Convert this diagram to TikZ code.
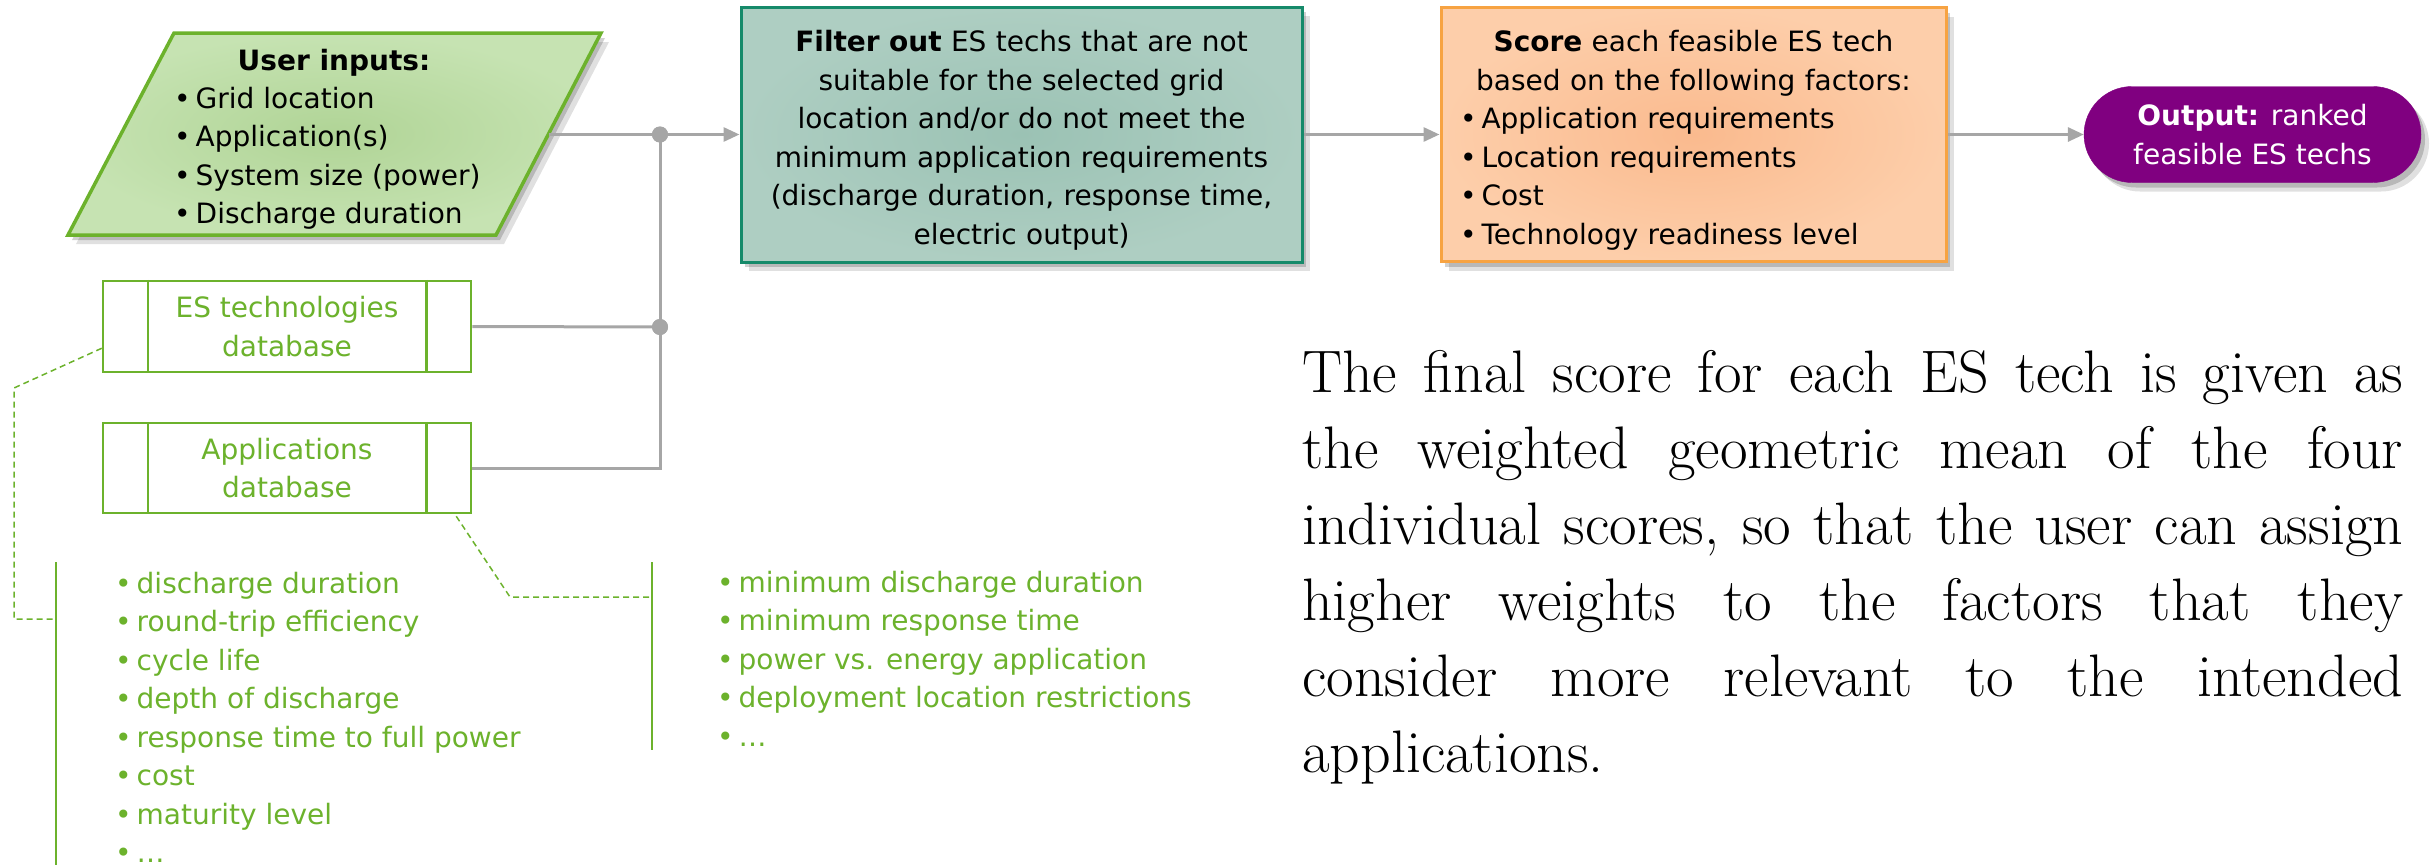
\documentclass[tikz,border=0pt]{standalone}
\usepackage{fontspec}
\newfontfamily\dvs{DejaVu Sans}
\usetikzlibrary{arrows.meta,shadows,shapes.misc,calc}
\definecolor{conn}{RGB}{166,166,166}
\definecolor{grn}{RGB}{108,178,44}
\definecolor{grnfillA}{RGB}{176,212,150}
\definecolor{grnfillB}{RGB}{198,227,178}
\definecolor{tealb}{RGB}{22,138,106}
\definecolor{tealA}{RGB}{155,194,180}
\definecolor{tealB}{RGB}{174,206,194}
\definecolor{orgb}{RGB}{247,163,66}
\definecolor{orgA}{RGB}{250,186,142}
\definecolor{orgB}{RGB}{253,206,170}
\definecolor{purp}{RGB}{128,0,128}
\tikzset{
  sans/.style={font=\dvs\fontsize{28}{38.5}\selectfont},
  softshadow/.style={drop shadow={shadow xshift=8pt,shadow yshift=-9pt,opacity=.12,fill=black},
                     drop shadow={shadow xshift=4pt,shadow yshift=-5pt,opacity=.18,fill=black}},
  connector/.style={draw=conn,line width=3pt},
  arrowtip/.style={-{Triangle[length=16pt,width=14pt]}},
  dbbox/.style={draw=grn,line width=2.5pt,fill=white,minimum width=368pt,minimum height=91pt,
                sans,text=grn,align=center,inner sep=0pt},
  calloutline/.style={draw=grn,line width=1.5pt,dash pattern=on 6pt off 4pt},
  accentbar/.style={draw=grn,line width=1.5pt},
  listitem/.style={sans,text=grn,anchor=base west,inner sep=0pt},
  uiitem/.style={sans,anchor=base west,inner sep=0pt},
  paratext/.style={anchor=base west,inner sep=0pt,font=\fontsize{60}{76}\selectfont},
  junction/.style={circle,fill=conn,minimum size=16pt,inner sep=0pt}
}
\begin{document}
\begin{tikzpicture}[x=1pt,y=-1pt]
\useasboundingbox (0,0) rectangle (2436,865);

% user inputs parallelogram
\shadedraw[draw=grn,line width=3.5pt,inner color=grnfillA,outer color=grnfillB,softshadow]
  (174,33) -- (601,33) -- (496,235) -- (68,235) -- cycle;
\coordinate (uiR) at (548.5,134.5);
\node[sans,anchor=base,inner sep=0pt] (uititle) at (334,70) {\bfseries User inputs:};
\foreach \itm [count=\i] in {Grid location,Application(s),System size (power),Discharge duration}
  \node[uiitem] (ui\i) at (174,{69.5+38.5*\i}) {•\hspace{5pt}\itm};

% filter box
\node[draw=tealb,line width=3pt,inner color=tealA,outer color=tealB,softshadow,
      minimum width=561pt,minimum height=255pt,inner sep=0pt]
  (filter) at (1021.5,134.5) {};
\node[text width=540pt,align=center,sans,inner sep=0pt] (filtertxt) at ($(filter.center)+(0,6)$)
  {\textbf{Filter out} ES techs that are not\\ suitable for the selected grid\\ location and/or do not meet the\\
   minimum application requirements\\ (discharge duration, response time,\\ electric output)};

% score box
\node[draw=orgb,line width=3pt,inner color=orgA,outer color=orgB,softshadow,
      minimum width=505pt,minimum height=254pt,inner sep=0pt]
  (score) at (1693.5,134.5) {};
\node[text width=467pt,align=left,sans,inner sep=0pt] (scoretxt) at ($(score.center)+(0,6)$)
  {{\centering\textbf{Score} each feasible ES tech\\ based on the following factors:\par}
   •\hspace{5pt}Application requirements\\ •\hspace{5pt}Location requirements\\
   •\hspace{5pt}Cost\\ •\hspace{5pt}Technology readiness level};

% output
\node[rounded rectangle,fill=purp,draw=purp,softshadow,minimum width=337pt,minimum height=96pt,
      text=white,align=center,sans,inner sep=0pt]
  (out) at (2252.5,134.5) {\textbf{Output:} ranked\\ feasible ES techs};

% databases
\node[dbbox] (esdb) at (287,326.5) {ES technologies\\ database};
\draw[accentbar,line width=2.5pt] ($(esdb.north west)+(46,0)$) -- ($(esdb.south west)+(46,0)$);
\draw[accentbar,line width=2.5pt] ($(esdb.north east)+(-46,0)$) -- ($(esdb.south east)+(-46,0)$);
\node[dbbox,minimum height=90pt] (appdb) at (287,468) {Applications\\ database};
\draw[accentbar,line width=2.5pt] ($(appdb.north west)+(46,0)$) -- ($(appdb.south west)+(46,0)$);
\draw[accentbar,line width=2.5pt] ($(appdb.north east)+(-46,0)$) -- ($(appdb.south east)+(-46,0)$);

% junctions and connectors
\node[junction] (j1) at (660,134.5) {};
\node[junction] (j2) at (660,327) {};
\draw[connector,arrowtip] (uiR) -- (filter.west);
\draw[connector] (esdb.east) -- (j2.center);
\draw[connector] (appdb.east) -| (j1.center);
\draw[connector,arrowtip] (filter.east) -- (score.west);
\draw[connector,arrowtip] (score.east) -- (out.west);
\node[junction] at (j1) {};
\node[junction] at (j2) {};

% callouts
\draw[calloutline] ($(esdb.south west)+(0,-25)$) -- (14,388) |- (56,619);
\draw[accentbar] (56,562) -- (56,865);
\draw[calloutline] ($(appdb.south east)+(-16,2)$) -- (510,597) -- (652,597);
\draw[accentbar] (652,562) -- (652,750);

\foreach \itm [count=\i from 0] in {discharge duration,round-trip efficiency,cycle life,depth of discharge,
   response time to full power,cost,maturity level,…}
  \node[listitem] (ll\i) at (115,{593+38.5*\i}) {•\hspace{5pt}\itm};
\foreach \itm [count=\i from 0] in {minimum discharge duration,minimum response time,
   power vs. energy application,deployment location restrictions,…}
  \node[listitem] (rl\i) at (717,{592+38.5*\i}) {•\hspace{5pt}\itm};

% paragraph
\node[paratext] (p1) at (1302,392) {\makebox[1101pt][s]{The final score for each ES tech is given as}};
\node[paratext] (p2) at (1302,468) {\makebox[1101pt][s]{the weighted geometric mean of the four}};
\node[paratext] (p3) at (1302,544) {\makebox[1101pt][s]{individual scores, so that the user can assign}};
\node[paratext] (p4) at (1302,620) {\makebox[1101pt][s]{higher weights to the factors that they}};
\node[paratext] (p5) at (1302,696) {\makebox[1101pt][s]{consider more relevant to the intended}};
\node[paratext] (p6) at (1302,772) {applications.};
\end{tikzpicture}
\end{document}
